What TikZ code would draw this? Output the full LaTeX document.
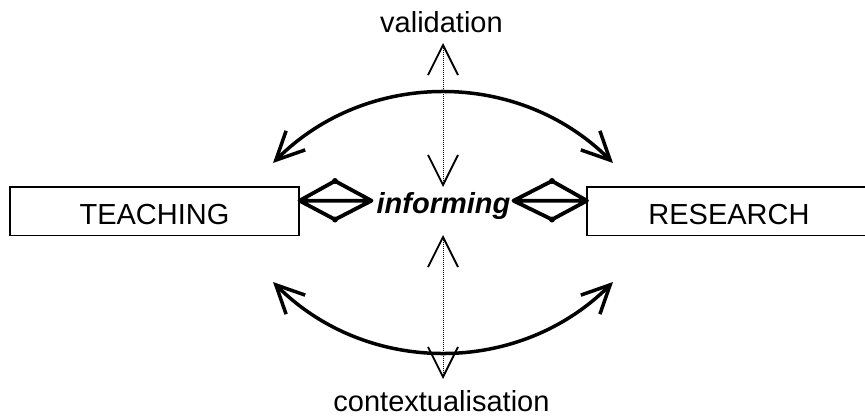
\documentclass[tikz,border=0pt]{standalone}
\usepackage{fontspec}
\setmainfont{Liberation Sans}
\usetikzlibrary{arrows.meta,calc}
\tikzset{
  box/.style={draw, line width=1.5pt, minimum width=289pt, minimum height=48.5pt,
              inner sep=0pt, text height=26pt, text depth=0pt},
  lbl/.style={inner sep=0pt, anchor=base},
  arcarrow/.style={line width=3.5pt,
     {Straight Barb[length=28pt,width=27pt,line width=3.5pt]}-{Straight Barb[length=28pt,width=27pt,line width=3.5pt]}},
  dotarrow/.style={line width=1pt, dash pattern=on 1pt off 1pt,
     {Straight Barb[length=30pt,width=30pt,line width=1.8pt]}-{Straight Barb[length=30pt,width=30pt,line width=1.8pt]}},
  diam/.style={line width=3.8pt, line join=round, line cap=round},
}
\begin{document}
\begin{tikzpicture}[x=1pt,y=-1pt,font=\fontsize{29}{34}\selectfont]
\useasboundingbox (0,0) rectangle (865,418);
\begin{scope}
\clip (0,0) rectangle (865,418);
% boxes
\node[box] (teach) at (154.5,211.25) {TEACHING};
\node[box, minimum width=284pt] (res) at (729,211.25) {RESEARCH};
\end{scope}
% labels
\node[lbl] (inf) at (443.5,213) {\bfseries\itshape informing};
\node[lbl] (val) at (441.5,32) {validation};
\node[lbl] (ctx) at (441.5,411) {contextualisation};
% arc end points
\coordinate (tl) at (273,163);
\coordinate (tr) at (613,163);
\coordinate (bl) at (273,282);
\coordinate (br) at (613,282);
\draw[arcarrow] (tl) .. controls ($(tl)+(94,-94)$) and ($(tr)+(-94,-94)$) .. (tr);
\draw[arcarrow] (bl) .. controls ($(bl)+(94,94)$) and ($(br)+(-94,94)$) .. (br);
% dotted vertical arrows
\coordinate (vt1) at (443,43);
\coordinate (vb1) at (443,187);
\coordinate (vt2) at (443,235);
\coordinate (vb2) at (443,379);
\draw[dotarrow] (vt1) -- (vb1);
\draw[dotarrow] (vt2) -- (vb2);
% diamonds
\coordinate (dl1) at (299.5,200.7);
\coordinate (dt1) at (335,181);
\coordinate (dr1) at (371.5,200.7);
\coordinate (db1) at (335,219.5);
\draw[diam] (dl1) -- (dt1) -- (dr1) -- (db1) -- cycle (dl1) -- (dr1);
\fill (dt1) circle (3pt) (db1) circle (3pt);
\coordinate (dl2) at (513.5,200.7);
\coordinate (dt2) at (552,181);
\coordinate (dr2) at (587,200.7);
\coordinate (db2) at (552,219.5);
\draw[diam] (dl2) -- (dt2) -- (dr2) -- (db2) -- cycle (dl2) -- (dr2);
\fill (dt2) circle (3pt) (db2) circle (3pt);
\end{tikzpicture}
\end{document}
